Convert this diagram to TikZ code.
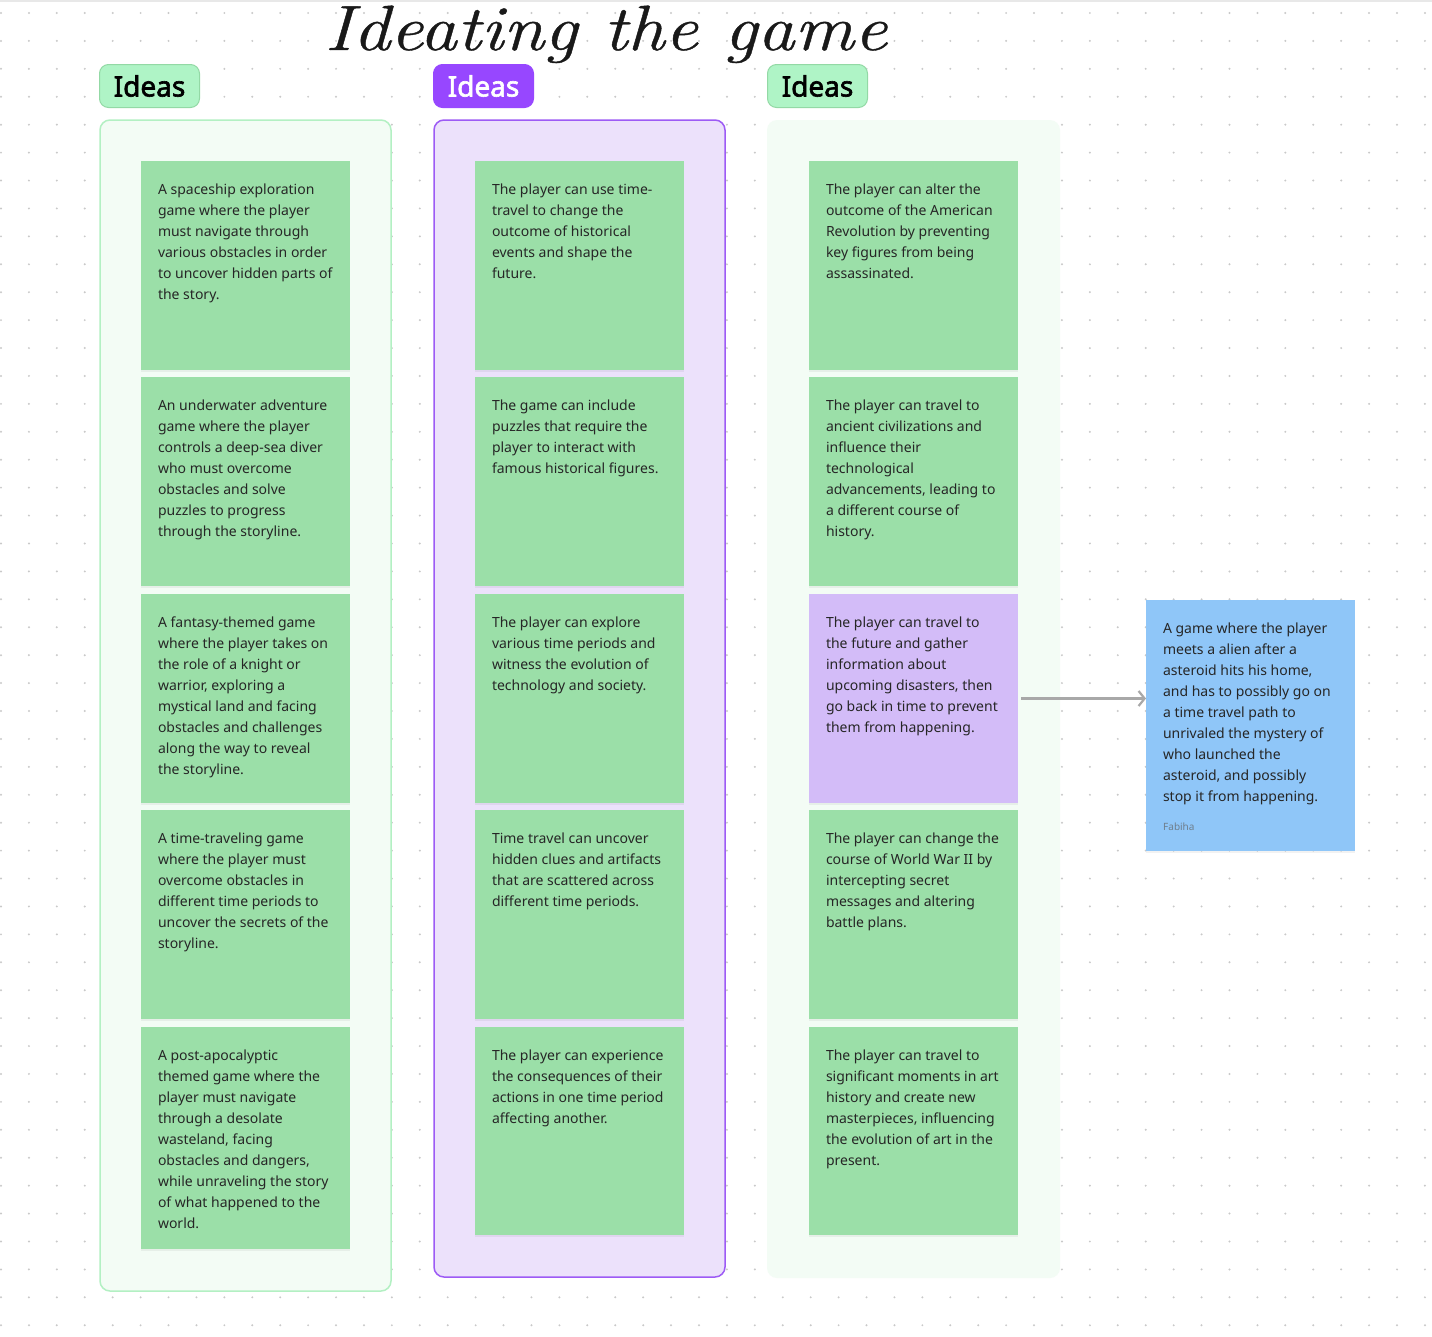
\documentclass[tikz,border=0pt]{standalone}
\usepackage{fontspec}
\setmainfont{Latin Modern Roman}
\newfontfamily\notefont{Noto Sans}
\newfontfamily\labfont{Noto Sans}[FakeBold=2.2]
\newfontfamily\titlefont{Latin Modern Roman}[FakeBold=0.6]
\usetikzlibrary{arrows.meta,shadows}
\definecolor{dotc}{HTML}{C9C9C9}
\definecolor{notegreen}{HTML}{9BDFA8}
\definecolor{notepurple}{HTML}{D3BCF8}
\definecolor{noteblue}{HTML}{8FC6F8}
\definecolor{framegreen}{HTML}{F3FCF5}
\definecolor{framegreenline}{HTML}{B3F0C3}
\definecolor{framepurple}{HTML}{ECE1FB}
\definecolor{framepurpleline}{HTML}{9D5BF5}
\definecolor{labelgreen}{HTML}{AFF4C6}
\definecolor{labelgreenline}{HTML}{93D9A5}
\definecolor{labelpurple}{HTML}{9747FF}
\definecolor{notetextc}{HTML}{262626}
\definecolor{arrowc}{HTML}{A8A8A8}
\definecolor{authorc}{HTML}{6F7E8C}
\begin{document}
\begin{tikzpicture}[x=1pt,y=-1pt,
  framebox/.style={rectangle, rounded corners=10pt, inner sep=0pt, outer sep=0pt, anchor=north west, minimum width=291pt},
  stickbox/.style={rectangle, inner sep=0pt, outer sep=0pt, minimum width=209pt, anchor=north west,
     drop shadow={shadow xshift=0pt, shadow yshift=-2pt, opacity=0.05, fill=black}},
  stickytext/.style={inner sep=0pt, outer sep=0pt, anchor=north west, align=left, text=notetextc,
     font=\notefont\fontsize{14}{21}\selectfont},
  ideaslabel/.style={rectangle, rounded corners=9pt, minimum width=100pt, minimum height=43pt, inner sep=0pt,
     anchor=north west, font=\labfont\fontsize{28}{28}\selectfont, line width=1pt},
  linkarrow/.style={draw=arrowc, line width=2.2pt, -{Straight Barb[length=6pt,width=15pt,line width=2.2pt]}}
]
\useasboundingbox (0,0) rectangle (1432,1336);
\fill[white] (0,0) rectangle (1432,1336);
\fill[gray!18] (0,0) rectangle (1432,2);
% dot grid
\foreach \i in {0,...,51}{
  \foreach \j in {0,...,47}{
    \fill[dotc] (1+27.92*\i, 13+27.92*\j) circle (1.1pt);
  }
}
% title
\node[anchor=base, inner sep=0pt, xscale=1.16, font=\titlefont\itshape\fontsize{64}{64}\selectfont, text=black!90] (title) at (606,50) {Ideating the game};
% labels
\node[ideaslabel, fill=labelgreen, draw=labelgreenline] (lab1) at (99,64) {Ideas};
\node[ideaslabel, fill=labelpurple, draw=labelpurple, text=white] (lab2) at (433,64) {Ideas};
\node[ideaslabel, fill=labelgreen, draw=labelgreenline] (lab3) at (767,64) {Ideas};
% frames
\node[framebox, fill=framegreen, draw=framegreenline, line width=1.5pt, minimum height=1171pt] (f1) at (100,120) {};
\node[framebox, fill=framepurple, draw=framepurpleline, line width=1.5pt, minimum height=1157pt] (f2) at (434,120) {};
\node[framebox, fill=framegreen, minimum height=1158pt, minimum width=293pt] (f3) at (767,120) {};
\newcommand\stickynote[6]{%
  \node[stickbox, fill=#5, minimum height=#4pt] (#1) at (#2,#3) {};
  \node[stickytext] (#1t) at ([xshift=17pt, yshift=-18.5pt]#1.north west) {\rule{0pt}{15pt}#6};
}
% column 1
\stickynote{a1}{141}{161}{209}{notegreen}{A spaceship exploration\\game where the player\\must navigate through\\various obstacles in order\\to uncover hidden parts of\\the story.}
\stickynote{a2}{141}{377}{209}{notegreen}{An underwater adventure\\game where the player\\controls a deep-sea diver\\who must overcome\\obstacles and solve\\puzzles to progress\\through the storyline.}
\stickynote{a3}{141}{594}{209}{notegreen}{A fantasy-themed game\\where the player takes on\\the role of a knight or\\warrior, exploring a\\mystical land and facing\\obstacles and challenges\\along the way to reveal\\the storyline.}
\stickynote{a4}{141}{810}{209}{notegreen}{A time-traveling game\\where the player must\\overcome obstacles in\\different time periods to\\uncover the secrets of the\\storyline.}
\stickynote{a5}{141}{1027}{222}{notegreen}{A post-apocalyptic\\themed game where the\\player must navigate\\through a desolate\\wasteland, facing\\obstacles and dangers,\\while unraveling the story\\of what happened to the\\world.}
% column 2
\stickynote{b1}{475}{161}{209}{notegreen}{The player can use time-\\travel to change the\\outcome of historical\\events and shape the\\future.}
\stickynote{b2}{475}{377}{209}{notegreen}{The game can include\\puzzles that require the\\player to interact with\\famous historical figures.}
\stickynote{b3}{475}{594}{209}{notegreen}{The player can explore\\various time periods and\\witness the evolution of\\technology and society.}
\stickynote{b4}{475}{810}{209}{notegreen}{Time travel can uncover\\hidden clues and artifacts\\that are scattered across\\different time periods.}
\stickynote{b5}{475}{1027}{208}{notegreen}{The player can experience\\the consequences of their\\actions in one time period\\affecting another.}
% column 3
\stickynote{c1}{809}{161}{209}{notegreen}{The player can alter the\\outcome of the American\\Revolution by preventing\\key figures from being\\assassinated.}
\stickynote{c2}{809}{377}{209}{notegreen}{The player can travel to\\ancient civilizations and\\influence their\\technological\\advancements, leading to\\a different course of\\history.}
\stickynote{c3}{809}{594}{209}{notepurple}{The player can travel to\\the future and gather\\information about\\upcoming disasters, then\\go back in time to prevent\\them from happening.}
\stickynote{c4}{809}{810}{209}{notegreen}{The player can change the\\course of World War II by\\intercepting secret\\messages and altering\\battle plans.}
\stickynote{c5}{809}{1027}{208}{notegreen}{The player can travel to\\significant moments in art\\history and create new\\masterpieces, influencing\\the evolution of art in the\\present.}
% blue note
\stickynote{d1}{1146}{600}{251}{noteblue}{A game where the player\\meets a alien after a\\asteroid hits his home,\\and has to possibly go on\\a time travel path to\\unrivaled the mystery of\\who launched the\\asteroid, and possibly\\stop it from happening.}
\node[anchor=base west, inner sep=0pt, text=authorc, font=\notefont\fontsize{10}{12}\selectfont] (author) at ([xshift=17pt, yshift=21pt]d1.south west) {Fabiha};
% connector
\draw[linkarrow, shorten <=3pt] (c3.east) -- (c3.east -| d1.west);
\end{tikzpicture}
\end{document}
